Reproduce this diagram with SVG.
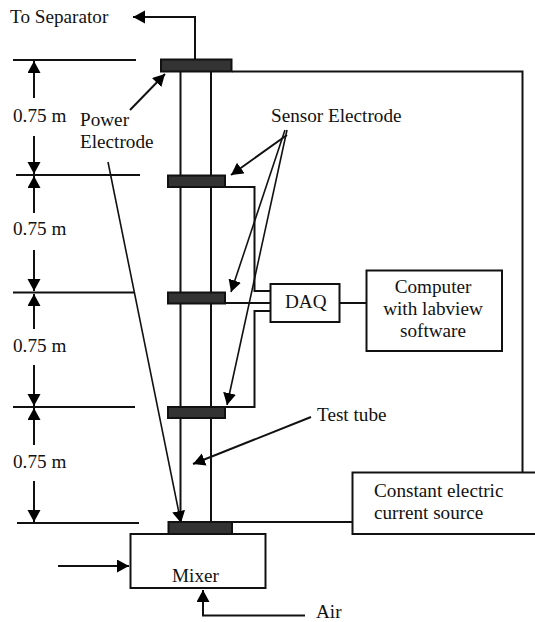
<svg xmlns="http://www.w3.org/2000/svg" width="535" height="622" viewBox="0 0 535 622">
<style>
text{font-family:"Liberation Serif","Times New Roman",serif;font-size:19.2px;fill:#111}
.l{fill:none;stroke:#111;stroke-width:2}
.t{fill:none;stroke:#111;stroke-width:1.6}
.bar{fill:#333;stroke:#111;stroke-width:2}
.box{fill:#fff;stroke:#111;stroke-width:2}
</style>
<defs>
<marker id="a" markerUnits="userSpaceOnUse" markerWidth="14" markerHeight="14" refX="12" refY="6.500" orient="auto"><path d="M0 0L12 6.500L0 13Z" fill="#000"/></marker>
</defs>
<rect width="535" height="622" fill="#fff"/>
<g id="connectors">
<path class="l" d="M195 59V17H133" marker-end="url(#a)"/>
<path class="l" d="M180.500 72V522M211 72V522"/>
<path class="l" d="M13 60H136M16 175H140M13 292.500H134M13 407H135M17 523H139"/>
<path class="l" d="M34 98V61" marker-end="url(#a)"/>
<path class="l" d="M34 136V174" marker-end="url(#a)"/>
<path class="l" d="M34 213V176" marker-end="url(#a)"/>
<path class="l" d="M34 250V291" marker-end="url(#a)"/>
<path class="l" d="M34 329V294" marker-end="url(#a)"/>
<path class="l" d="M34 365V406" marker-end="url(#a)"/>
<path class="l" d="M34 445V408" marker-end="url(#a)"/>
<path class="l" d="M34 481V522" marker-end="url(#a)"/>
<path class="l" d="M232 71.500H522.500V472"/>
<path class="l" d="M232 522H353"/>
<path class="l" d="M225 187H254.500V291H271"/>
<path class="l" d="M225 303H271"/>
<path class="l" d="M225 407H254.500V311H271"/>
<path class="l" d="M340 303H367"/>
<path class="l" d="M130 110L165 74" marker-end="url(#a)"/>
<path class="t" d="M108 162L181 523" marker-end="url(#a)"/>
<path class="l" d="M287 135L231 175" marker-end="url(#a)"/>
<path class="t" d="M285 130L231 292" marker-end="url(#a)"/>
<path class="t" d="M287 130L227 405" marker-end="url(#a)"/>
<path class="l" d="M311 417L193 464" marker-end="url(#a)"/>
<path class="l" d="M58 566H129" marker-end="url(#a)"/>
<path class="l" d="M305 615.500H203V590" marker-end="url(#a)"/>
</g>
<g id="power-electrode"><rect class="bar" x="161" y="59.500" width="70.500" height="12"/></g>
<g id="sensor-electrode-1"><rect class="bar" x="168" y="175.500" width="57" height="11.500"/></g>
<g id="sensor-electrode-2"><rect class="bar" x="168" y="292.500" width="57" height="11"/></g>
<g id="sensor-electrode-3"><rect class="bar" x="168" y="407" width="57" height="11"/></g>
<g id="bottom-electrode"><rect class="bar" x="168.500" y="522" width="63.500" height="12"/></g>
<g id="mixer"><rect class="box" x="130.500" y="534" width="135" height="54"/><text x="172" y="582">Mixer</text></g>
<g id="daq"><rect class="box" x="270.500" y="284" width="69" height="38"/><text x="285" y="307.500">DAQ</text></g>
<g id="computer"><rect class="box" x="366.500" y="270.500" width="135.500" height="80.500"/><text x="433" y="293" text-anchor="middle">Computer</text><text x="433" y="315" text-anchor="middle">with labview</text><text x="433" y="337" text-anchor="middle">software</text></g>
<g id="current-source"><path class="box" d="M536 472.500H352.500V534H536"/><text x="374" y="497">Constant electric</text><text x="374" y="519">current source</text></g>
<g id="labels">
<text x="10" y="22.500">To Separator</text>
<text x="13" y="122">0.75 m</text>
<text x="13" y="235">0.75 m</text>
<text x="13" y="352">0.75 m</text>
<text x="13" y="468">0.75 m</text>
<text x="80" y="126">Power</text>
<text x="80" y="148">Electrode</text>
<text x="271" y="122">Sensor Electrode</text>
<text x="317" y="421">Test tube</text>
<text x="316" y="617.500">Air</text>
</g>
</svg>
